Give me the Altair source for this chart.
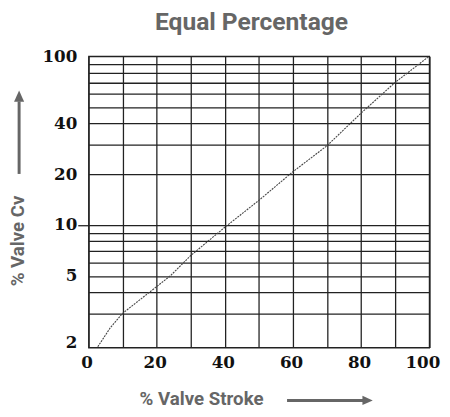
import altair as alt
import pandas as pd

# Curve: % valve stroke vs % valve Cv
stroke = [2.7, 6.3, 10, 24, 30, 40, 50, 60, 70, 80, 90, 100]
cv = [1.9, 2.45, 3.0, 5.0, 6.6, 9.7, 14, 20.7, 29.5, 46, 70, 100]

x_ticks = [0, 10, 20, 30, 40, 50, 60, 70, 80, 90, 100]
x_labels = [0, 20, 40, 60, 80, 100]
y_grid = [2, 3, 4, 5, 6, 7, 8, 9, 10, 20, 30, 40, 50, 60, 70, 80, 90, 100]
y_labels = [2, 5, 10, 20, 40, 100]

df = pd.DataFrame({"stroke": stroke, "cv": cv})
one = pd.DataFrame({"k": [0]})

LABEL_FONT = "DejaVu Serif"
GRAY = "#666666"

x_enc = alt.X(
    "stroke:Q",
    scale=alt.Scale(domain=[0, 100], nice=False),
    axis=alt.Axis(
        values=x_ticks,
        labelExpr="indexof(" + str(x_labels) + ", datum.value) >= 0 ? datum.label : ''",
        grid=True, ticks=False, domain=False, labelFlush=False,
        labelFont=LABEL_FONT, labelFontWeight="bold", labelFontSize=17, labelColor="#111111",
        labelPadding=7,
        labelOffset={"condition": {"test": "datum.value == 100", "value": -7}, "value": -2},
        title="% Valve Stroke", titleFont="Roboto", titleFontWeight="bold", titleFontSize=19,
        titleColor=GRAY, titleX=114.5, titleY=52, titleBaseline="middle", titleAlign="center",
    ),
)
y_enc = alt.Y(
    "cv:Q",
    scale=alt.Scale(type="log", domain=[1.88, 100], nice=False),
    axis=alt.Axis(
        values=y_grid,
        labelExpr="indexof(" + str(y_labels) + ", datum.value) >= 0 ? datum.label : ''",
        grid=True, domain=False, labelFlush=False,
        gridOpacity={"condition": {"test": "datum.value == 2", "value": 0}, "value": 1},
        ticks=True, tickSize=11, tickColor="#222222", tickWidth=1.3,
        tickOpacity={"condition": {"test": "datum.value == 10", "value": 1}, "value": 0},
        labelFont=LABEL_FONT, labelFontWeight="bold", labelFontSize=17, labelColor="#111111",
        labelPadding=1, labelBaseline="middle",
        title="% Valve Cv", titleFont="Roboto", titleFontWeight="bold", titleFontSize=19,
        titleColor=GRAY, titleX=-72, titleY=187.5, titleAngle=270, titleBaseline="middle",
        titleAlign="center",
    ),
)

line = alt.Chart(df).mark_line(
    color="#444444", strokeWidth=1.1, strokeDash=[2, 1], clip=True
).encode(x=x_enc, y=y_enc)

# decorative arrows next to the axis titles
h_shaft = alt.Chart(one).mark_rule(color=GRAY, strokeWidth=3).encode(
    x=alt.value(202), x2=alt.value(281), y=alt.value(350.3))
h_head = alt.Chart(one).mark_point(
    shape="M -1 -0.9 L 1 0 L -1 0.9 Z", filled=True, color=GRAY, opacity=1, size=110
).encode(x=alt.value(284), y=alt.value(350.3))
v_shaft = alt.Chart(one).mark_rule(color=GRAY, strokeWidth=3).encode(
    x=alt.value(-70.7), y=alt.value(46), y2=alt.value(119.8))
v_head = alt.Chart(one).mark_point(
    shape="M -0.9 1 L 0 -1 L 0.9 1 Z", filled=True, color=GRAY, opacity=1, size=130
).encode(x=alt.value(-70.7), y=alt.value(40.7))

chart = alt.layer(line, h_shaft, h_head, v_shaft, v_head).properties(
    width=346.7,
    height=296.5,
    autosize=alt.AutoSizeParams(type="none"),
    padding={"left": 82, "top": 45.5, "right": 13, "bottom": 62},
    title=alt.TitleParams(
        "Equal Percentage", font="Roboto", fontWeight="bold", fontSize=25,
        color=GRAY, anchor="middle", dx=-7.5, offset=13,
    ),
).configure_view(
    stroke="#222222", strokeWidth=1.3
).configure_axis(
    gridColor="#222222", gridWidth=1.3
)

chart.save("out.html", embed_options={"renderer": "svg", "actions": False})
